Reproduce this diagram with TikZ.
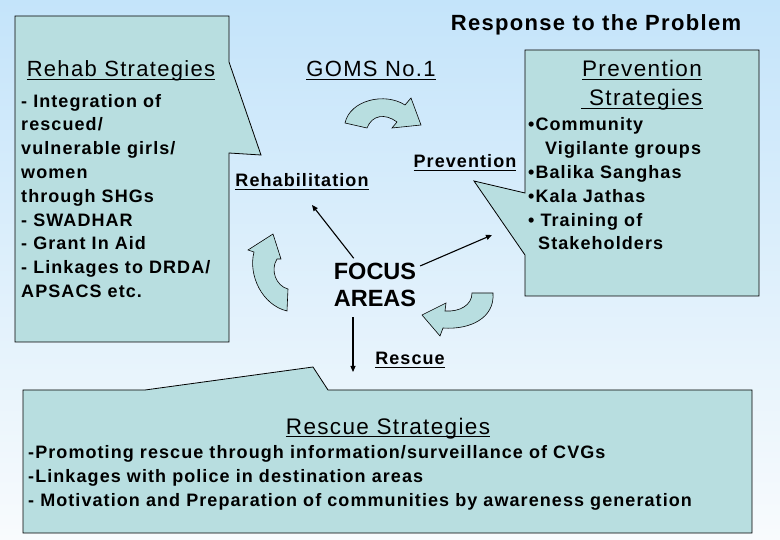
\documentclass[tikz,border=0pt]{standalone}
\usepackage{fontspec}
\setmainfont{Liberation Sans}
\newfontfamily\headfont[LetterSpace=6]{Liberation Sans}
\newfontfamily\bodyfont[LetterSpace=6]{Liberation Sans}
\usetikzlibrary{arrows.meta}

\definecolor{boxfill}{RGB}{184,222,224}
\definecolor{bgtop}{RGB}{196,228,250}
\definecolor{bgbot}{RGB}{248,251,253}

% underline at a fixed depth, like the slide does
\newcommand\ulbox[1]{\setbox0\hbox{#1}\rlap{\rule[-3pt]{\wd0}{0.9pt}}\box0}

\tikzset{
  callout/.style={fill=boxfill, draw=black, line width=0.8pt},
  bendarrow/.style={fill=boxfill, draw=black, line width=0.6pt},
  heading/.style={font=\headfont\fontsize{22}{26}\selectfont, inner sep=0pt, anchor=base},
  body/.style={font=\bodyfont\bfseries\fontsize{18}{23.8}\selectfont, inner sep=0pt, align=left},
  label/.style={font=\bodyfont\bfseries\fontsize{18}{22}\selectfont, inner sep=0pt, anchor=base},
  arr/.style={-{Triangle[length=6pt,width=5pt]}, line width=1.1pt}
}

\begin{document}
\begin{tikzpicture}[x=1pt,y=-1pt]
  \useasboundingbox (0,0) rectangle (780,540);
  \shade[top color=bgtop, bottom color=bgbot] (0,0) rectangle (780,540);

  % the three call-out boxes
  \filldraw[callout] (15,16) -- (229,16) -- (229,62) -- (261,155) -- (229,153) -- (229,342) -- (15,342) -- cycle;
  \filldraw[callout] (525,50) -- (759,50) -- (759,296) -- (525,296) -- (525,255) -- (474,181) -- (525,193) -- cycle;
  \filldraw[callout] (23,390) -- (145,390) -- (313,367) -- (328,390) -- (752,390) -- (752,533) -- (23,533) -- cycle;

  % curved block arrows
  \filldraw[bendarrow] (345,123) .. controls (350,100) and (385,92) .. (405,105) -- (411,98) -- (421,125) -- (392,128) -- (397,122)
      .. controls (385,113) and (372,115) .. (367,128) -- cycle;
  \filldraw[bendarrow] (273,234) -- (281,259) -- (277,259) .. controls (270,270) and (276,286) .. (288,289) -- (287,311)
      .. controls (262,305) and (248,275) .. (254,252) -- (248,250) -- cycle;
  \filldraw[bendarrow] (422,315) -- (446,303) -- (445,311) .. controls (460,312) and (472,305) .. (472,293) -- (493,293)
      .. controls (495,318) and (470,330) .. (443,328) -- (440,336) -- cycle;

  % texts (multi-line nodes sit on the baseline of their last line)
  \node[font=\bodyfont\bfseries\fontsize{22}{26}\selectfont, inner sep=0pt, anchor=base] (title) at (596,31) {Response to the Problem};

  \node[heading] (rehabhead) at (121,77) {\ulbox{Rehab Strategies}};
  \node[body, anchor=base west] (rehabtxt) at (21,297.5) {- Integration of\\rescued/\\vulnerable girls/\\women\\through SHGs\\- SWADHAR\\- Grant In Aid\\- Linkages to DRDA/\\APSACS etc.};

  \node[heading] (goms) at (371,77) {\ulbox{GOMS No.1}};

  \node[heading, font=\headfont\fontsize{22.5}{29}\selectfont, align=center] (prevhead) at (642,106) {\ulbox{Prevention}\\\ulbox{\ Strategies}};
  \node[body, anchor=base west] (prevtxt) at (528,250) {\textbullet Community\\\hspace*{17pt}Vigilante groups\\\textbullet Balika Sanghas\\\textbullet Kala Jathas\\\textbullet\ Training of\\\hspace*{10pt}Stakeholders};

  \node[heading, font=\headfont\fontsize{22.5}{26}\selectfont] (reschead) at (388,434) {\ulbox{Rescue Strategies}};
  \node[body, anchor=base west, font=\bodyfont\bfseries\fontsize{18}{23.8}\selectfont] (resctxt) at (28,506) {-Promoting rescue through information/surveillance of CVGs\\-Linkages with police in destination areas\\- Motivation and Preparation of communities by awareness generation};

  \node[label] (rehab) at (302,187) {\ulbox{Rehabilitation}};
  \node[label] (prev) at (465,168) {\ulbox{Prevention}};
  \node[label] (resc) at (410,365) {\ulbox{Rescue}};
  \node[font=\bfseries\fontsize{23.5}{27}\selectfont, inner sep=2pt, anchor=base, align=center] (focus) at (375,307) {FOCUS\\AREAS};

  % arrows out of the focus areas
  \coordinate (rehabend) at (312,205);
  \coordinate (prevend) at (492,235);
  \coordinate (rescend) at (353,372);
  \draw[arr, shorten <=4pt] (focus) -- (rehabend);
  \draw[arr, shorten <=2pt] (focus) -- (prevend);
  \draw[arr, shorten <=8pt] (focus.south -| rescend) -- (rescend);
\end{tikzpicture}
\end{document}
